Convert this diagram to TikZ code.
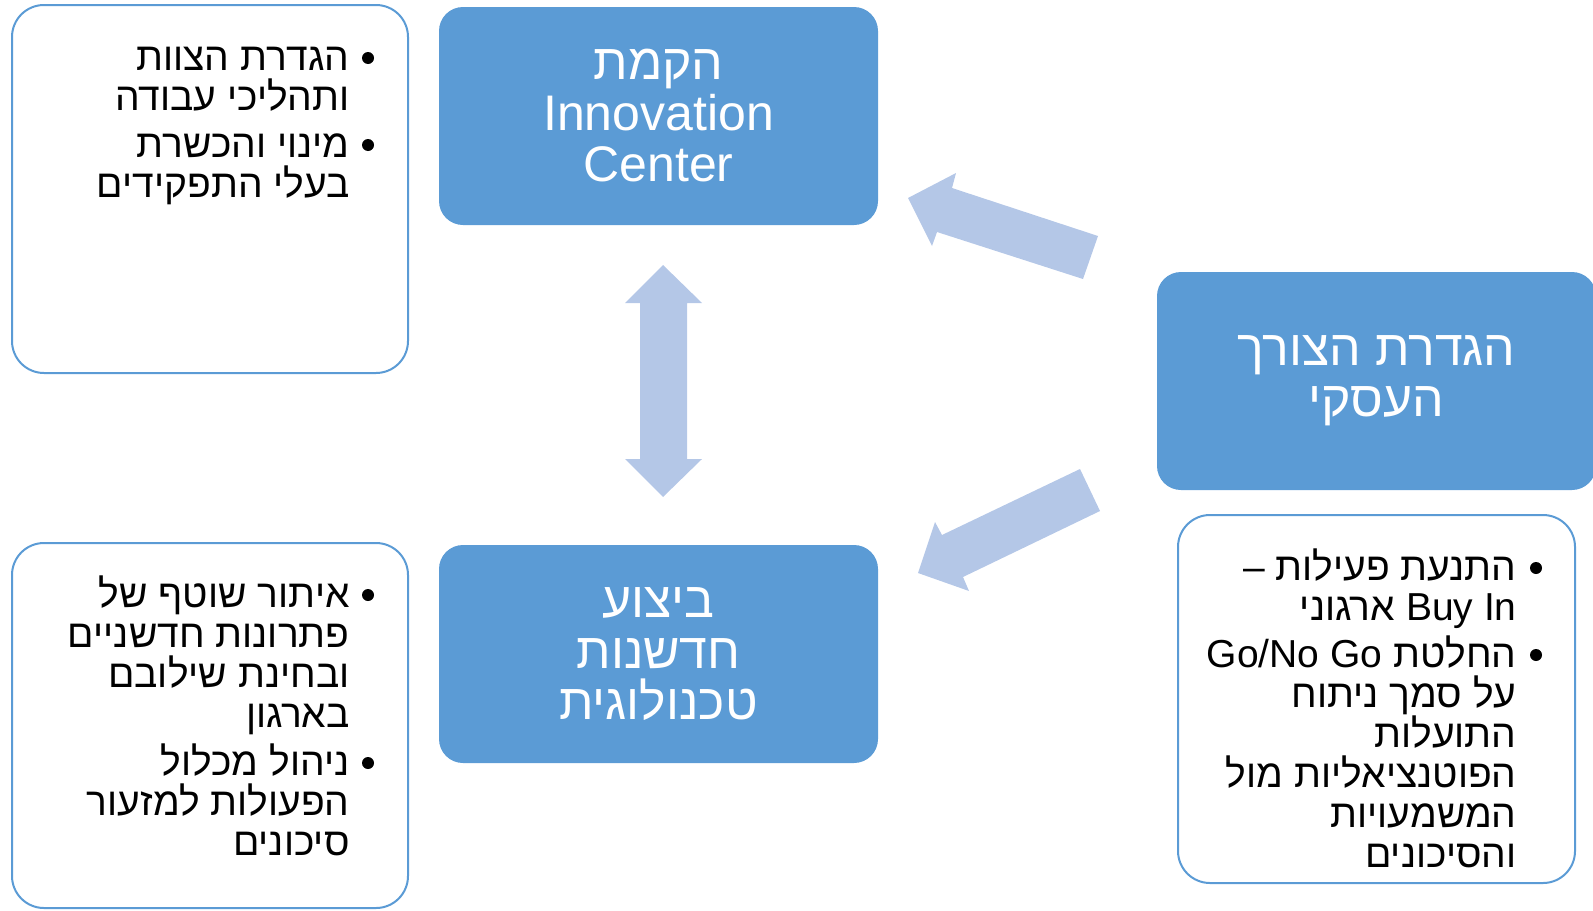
\documentclass[tikz,border=0pt]{standalone}
\usepackage{fontspec}
\setmainfont{Liberation Sans}
\newfontfamily\hebfont[Script=Hebrew]{Liberation Sans}
\usepackage{tikz}
\usetikzlibrary{positioning}
\TeXXeTstate=1
\definecolor{boxblue}{HTML}{5B9BD5}
\definecolor{arrowblue}{HTML}{B4C7E7}
\newcommand{\rtlline}[1]{\beginR #1\endR}
\tikzstyle{bluebox} = [rounded corners=12pt, fill=boxblue, text=white, inner sep=0pt, minimum width=219.5pt, minimum height=109pt, align=center, font=\hebfont\fontsize{25}{25.5}\selectfont]
\tikzstyle{whitebox} = [draw=boxblue, line width=1pt, rounded corners=16pt, inner sep=0pt, minimum width=198pt]
% anchored at the baseline of the last line
\tikzstyle{item} = [anchor=base east, inner sep=0pt, align=right, font=\hebfont\fontsize{19.5}{20}\selectfont]
\tikzstyle{dot} = [circle, fill=black, inner sep=0pt, minimum size=6pt]
\tikzstyle{fat} = [fill=arrowblue, draw=none]

\begin{document}
\begin{tikzpicture}[x=0.5pt, y=-0.5pt]
    \useasboundingbox (0,0) rectangle (1593,910);

    % main steps
    \node (found) [bluebox] at (658.5,116) {\rtlline{הקמת}\\Innovation\\Center};
    \node (need) [bluebox] at (1376.5,381) {\rtlline{הגדרת הצורך}\\\rtlline{העסקי}};
    \node (exec) [bluebox] at (658.5,654) {\rtlline{ביצוע}\\\rtlline{חדשנות}\\\rtlline{טכנולוגית}};

    % detail boxes
    \node (foundbox) [whitebox, minimum height=184pt] at (210,189) {};
    \node (execbox) [whitebox, minimum height=182.5pt] at (210,725.5) {};
    \node (needbox) [whitebox, minimum width=198.5pt, minimum height=184pt] at (1376.5,699) {};

    % block arrows
    \fill [fat] (908,198) -- (956,173) -- (952,188) -- (1098,236) -- (1083,279) -- (937,232) -- (932,246) -- cycle;
    \fill [fat] (918,573) -- (935,522) -- (942,535) -- (1080,469) -- (1100,511) -- (963,577) -- (969,591) -- cycle;
    \fill [fat] (663,265) -- (702,303) -- (687,303) -- (687,459) -- (702,459) -- (663,497) -- (625,459) -- (640,459) -- (640,303) -- (625,303) -- cycle;

    % bullets of the founding box
    \node (fdot1) [dot] at (368,58) {};
    \node (fitem1) [item] at (350,110) {\rtlline{הגדרת הצוות}\\\rtlline{ותהליכי עבודה}};
    \node (fdot2) [dot] at (368,145) {};
    \node (fitem2) [item] at (350,197) {\rtlline{מינוי והכשרת}\\\rtlline{בעלי התפקידים}};

    % bullets of the execution box
    \node (edot1) [dot] at (368,595) {};
    \node (eitem1) [item] at (350,727) {\rtlline{איתור שוטף של}\\\rtlline{פתרונות חדשניים}\\\rtlline{ובחינת שילובם}\\\rtlline{בארגון}};
    \node (edot2) [dot] at (368,763) {};
    \node (eitem2) [item] at (350,855) {\rtlline{ניהול מכלול}\\\rtlline{הפעולות למזעור}\\\rtlline{סיכונים}};

    % bullets of the need box
    \node (ndot1) [dot] at (1536,568) {};
    \node (nitem1) [item] at (1517,620) {\rtlline{התנעת פעילות –}\\\rtlline{\beginL Buy In\endL{} ארגוני}};
    \node (ndot2) [dot] at (1536,655) {};
    \node (nitem2) [item] at (1517,867) {\rtlline{החלטת \beginL Go/No Go\endL}\\\rtlline{על סמך ניתוח}\\\rtlline{התועלות}\\\rtlline{הפוטנציאליות מול}\\\rtlline{המשמעויות}\\\rtlline{והסיכונים}};
\end{tikzpicture}
\end{document}
